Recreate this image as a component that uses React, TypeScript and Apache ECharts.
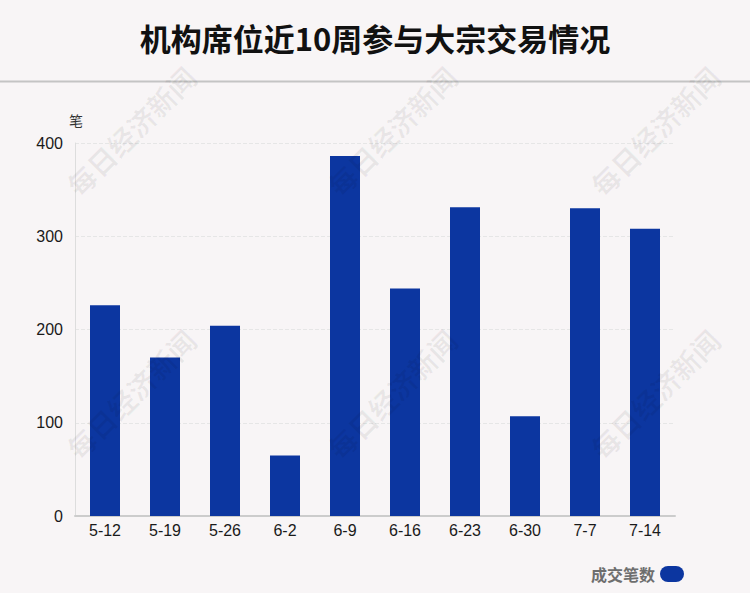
import React, { useEffect, useRef } from "react";
import * as echarts from "echarts";

const categories = ["5-12", "5-19", "5-26", "6-2", "6-9", "6-16", "6-23", "6-30", "7-7", "7-14"];
const tradeCounts = [226, 170, 204, 65, 386, 244, 331, 107, 330, 308];
const seriesName = "成交笔数";
const titleText = "机构席位近10周参与大宗交易情况";
const watermarkText = "每日经济新闻";
const watermarkCenters = [
  [131, 131], [392, 131], [655, 131],
  [131, 394], [392, 394], [655, 394],
];

export default function App() {
  const ref = useRef<HTMLDivElement>(null);
  useEffect(() => {
    if (!ref.current) return;
    const chart = echarts.init(ref.current, null, { renderer: "svg" });
    const font = "'Noto Sans CJK SC', 'Liberation Sans', sans-serif";
    chart.setOption({
      animation: false,
      backgroundColor: "#f8f5f6",
      textStyle: { fontFamily: font },
      title: {
        text: titleText,
        left: "center",
        top: 17,
        textStyle: { fontSize: 31, fontWeight: "bold", color: "#111", fontFamily: font },
      },
      legend: {
        data: [seriesName],
        right: 61,
        bottom: 6,
        align: "right",
        icon: "path://M8,0 H16 A8,8 0 0 1 16,16 H8 A8,8 0 0 1 8,0 Z",
        itemWidth: 24,
        itemHeight: 17,
        itemGap: 6,
        textStyle: { fontSize: 16, fontWeight: "bold", color: "#6e6e6e", fontFamily: font },
      },
      grid: { left: 75, right: 75, top: 143, bottom: 77, containLabel: false },
      xAxis: {
        type: "category",
        data: categories,
        axisLine: { lineStyle: { color: "#cccccc", width: 2 } },
        axisTick: { show: false },
        axisLabel: { fontSize: 16, color: "#1a1a1a", margin: 6, fontFamily: "'Liberation Sans', sans-serif" },
      },
      yAxis: {
        type: "value",
        name: "笔",
        nameLocation: "end",
        nameGap: 16,
        nameTextStyle: { fontSize: 14, color: "#333", align: "right", padding: [0, -8, 0, 0] },
        min: 0,
        max: 400,
        interval: 100,
        axisLine: { show: true, lineStyle: { color: "#dddddd" } },
        axisTick: { show: false },
        axisLabel: { fontSize: 16, color: "#1a1a1a", margin: 12, fontFamily: "'Liberation Sans', sans-serif" },
        splitLine: { lineStyle: { color: "#e6e6e6", type: "dashed" } },
      },
      series: [
        {
          name: seriesName,
          type: "bar",
          data: tradeCounts,
          barWidth: 30,
          itemStyle: { color: "#0c36a0" },
        },
      ],
      graphic: [
        {
          type: "line",
          shape: { x1: 0, y1: 81.5, x2: 750, y2: 81.5 },
          style: { stroke: "#c4c4c4", lineWidth: 2 },
          z: 10,
        },
        ...watermarkCenters.map(([cx, cy]) => ({
          type: "text",
          x: cx,
          y: cy,
          rotation: Math.PI / 4,
          z: 100,
          style: {
            text: watermarkText,
            fontSize: 28,
            fontWeight: "bold",
            fontFamily: font,
            fill: "rgba(0,0,0,0.06)",
            textAlign: "center",
            textVerticalAlign: "middle",
          },
        })),
      ],
    });
    return () => chart.dispose();
  }, []);
  return (
    <div
      ref={ref}
      style={{ position: "absolute", left: 0, top: 0, width: 750, height: 593 }}
    />
  );
}
